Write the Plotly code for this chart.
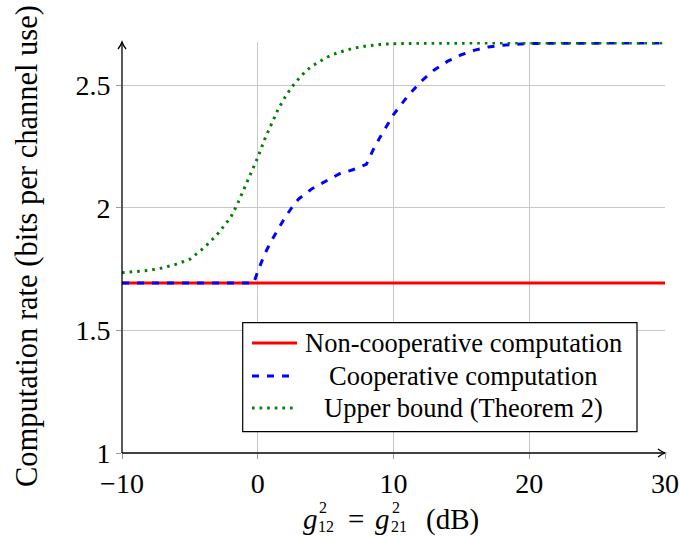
import plotly.graph_objects as go

# ---- data ----
x_noncoop = [-10, 30]
y_noncoop = [1.693, 1.693]

x_coop = [-10, -8, -6, -4, -2, -1, -0.3, 0, 0.5, 1, 1.5, 2, 2.5, 3, 4, 5, 6, 7, 8,
          8.5, 9, 10, 11, 12, 13, 14, 15, 16, 17, 18, 19, 20, 22, 25, 30]
y_coop = [1.693, 1.693, 1.693, 1.693, 1.693, 1.693, 1.693, 1.74, 1.81, 1.865, 1.915,
          1.96, 2.0, 2.035, 2.078, 2.108, 2.138, 2.155, 2.177, 2.236, 2.287, 2.38,
          2.452, 2.514, 2.562, 2.598, 2.624, 2.643, 2.656, 2.663, 2.667, 2.67,
          2.671, 2.672, 2.672]

x_upper = [-10, -8, -7, -6, -5, -4, -3, -2, -1.5, -1, -0.5, 0, 0.5, 1, 1.5, 2, 2.5,
           3, 3.5, 4, 4.5, 5, 5.5, 6, 7, 8, 9, 10, 12, 15, 20, 25, 30]
y_upper = [1.735, 1.745, 1.755, 1.77, 1.79, 1.835, 1.89, 1.96, 2.015, 2.08, 2.14,
           2.205, 2.278, 2.342, 2.402, 2.45, 2.492, 2.525, 2.555, 2.578, 2.596, 2.611,
           2.624, 2.634, 2.65, 2.66, 2.666, 2.669, 2.671, 2.672, 2.672, 2.672, 2.672]

names = ["Non-cooperative computation", "Cooperative computation", "Upper bound (Theorem 2)"]
colors = ["#ff0000", "#0000ff", "#008000"]
dashes = ["solid", "7px,8px", "2.6px,5px"]

x_ticks = [-10, 0, 10, 20, 30]
x_ticktext = ["\u221210", "0", "10", "20", "30"]
y_ticks = [1, 1.5, 2, 2.5]
y_ticktext = ["1", "1.5", "2", "2.5"]
y_title = "Computation rate (bits per channel use)"

X_RANGE = [-10, 30]
Y_RANGE = [1, 2.676]

FONT = "Liberation Serif"
TICK_FS = 28
LEG_FS = 26.5
TITLE_FS = 30.5
XT_FS = 29

# plot-area geometry (pixels)
W, H = 680, 536
ML, MR, MT, MB = 122, 15, 42, 83
PW, PH = W - ML - MR, H - MT - MB


def px(xp):
    return (xp - ML) / PW


def py(yp):
    return (H - MB - yp) / PH


fig = go.Figure()
for xs, ys, nm, c, d in zip([x_noncoop, x_coop, x_upper], [y_noncoop, y_coop, y_upper],
                            names, colors, dashes):
    fig.add_trace(go.Scatter(x=xs, y=ys, mode="lines", name=nm,
                             line=dict(color=c, width=3, dash=d), cliponaxis=False,
                             showlegend=False, hoverinfo="skip"))

# axis lines with arrow tips (paper-referenced so they are not clipped)
AX_LINE = dict(color="black", width=1.3)
fig.add_shape(type="line", xref="paper", yref="paper", x0=0, x1=1, y0=0, y1=0,
              line=AX_LINE, layer="above")
fig.add_shape(type="line", xref="paper", yref="paper", x0=0, x1=0, y0=0, y1=1,
              line=AX_LINE, layer="above")
fig.add_shape(type="path", xref="paper", yref="paper", xsizemode="pixel", ysizemode="pixel",
              xanchor=1, yanchor=0,
              path="M-7,4 Q-3,1 0,0 Q-3,-1 -7,-4", line=AX_LINE, layer="above")
fig.add_shape(type="path", xref="paper", yref="paper", xsizemode="pixel", ysizemode="pixel",
              xanchor=0, yanchor=1,
              path="M-4,-7 Q-1,-3 0,0 Q1,-3 4,-7", line=AX_LINE, layer="above")

# custom legend (centered text like pgfplots)
fig.add_shape(type="rect", xref="paper", yref="paper", x0=px(242.7), x1=px(637),
              y0=py(431.7), y1=py(322.7),
              fillcolor="white", line=dict(color="black", width=1.2), layer="above")
rows = [343, 376, 408]
for nm, c, d, ry in zip(names, colors, dashes, rows):
    fig.add_shape(type="line", xref="paper", yref="paper", x0=px(252), x1=px(297),
                  y0=py(ry), y1=py(ry), line=dict(color=c, width=3, dash=d), layer="above")
    fig.add_annotation(x=px(464), y=py(ry), xref="paper", yref="paper", text=nm,
                       showarrow=False, xanchor="center", yanchor="middle",
                       font=dict(family=FONT, size=LEG_FS, color="black"))

# y axis title
fig.add_annotation(x=px(27), y=py(246), xref="paper", yref="paper", text=y_title,
                   textangle=-90, showarrow=False, xanchor="center", yanchor="middle",
                   font=dict(family=FONT, size=TITLE_FS, color="black"))

# x axis title: g^2_12 = g^2_21 (dB) with stacked super/subscripts
SCRIPT_FS = 16
pieces = [
    ("<i>g</i>", 302, 519, XT_FS),
    ("2", 318, 507.5, SCRIPT_FS),
    ("12", 317, 526, SCRIPT_FS),
    ("=", 347, 519, XT_FS),
    ("<i>g</i>", 374, 519, XT_FS),
    ("2", 391, 507.5, SCRIPT_FS),
    ("21", 390, 526, SCRIPT_FS),
    ("(dB)", 425, 519, XT_FS),
]
for t, lx, cy, fs in pieces:
    fig.add_annotation(x=px(lx), y=py(cy), xref="paper", yref="paper", text=t,
                       showarrow=False, xanchor="left", yanchor="middle",
                       borderpad=0, font=dict(family=FONT, size=fs, color="black"))

fig.update_layout(
    width=W, height=H,
    margin=dict(l=ML, r=MR, t=MT, b=MB, autoexpand=False),
    paper_bgcolor="white", plot_bgcolor="white",
    font=dict(family=FONT, size=TICK_FS, color="black"),
    xaxis=dict(range=X_RANGE, tickvals=x_ticks, ticktext=x_ticktext, automargin=False,
               showgrid=True, gridcolor="#c8c8c8", gridwidth=1,
               zeroline=False, showline=False, ticks="outside", ticklen=5,
               tickcolor="#999999", tickfont=dict(family=FONT, size=TICK_FS)),
    yaxis=dict(range=Y_RANGE, tickvals=y_ticks, ticktext=y_ticktext, automargin=False,
               showgrid=True, gridcolor="#c8c8c8", gridwidth=1,
               zeroline=False, showline=False, ticks="outside", ticklen=5,
               tickcolor="#999999", tickfont=dict(family=FONT, size=TICK_FS)),
)

fig.write_html("out.html")
